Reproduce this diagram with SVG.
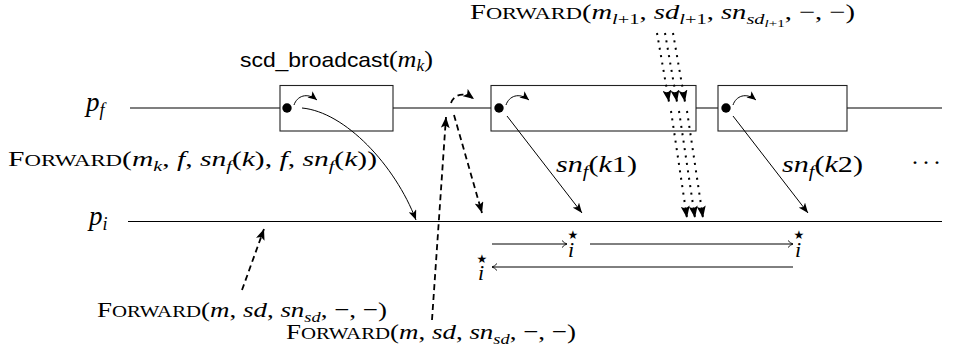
<svg xmlns="http://www.w3.org/2000/svg" width="955" height="364" viewBox="0 0 955 364">
<style>
.t{font-family:"Liberation Serif","Times New Roman",serif;font-size:22px;fill:#000}
.sc{font-size:17px}
.i{font-style:italic}
.s{font-size:15px}
.ss{font-size:11px}
.sans{font-family:"Liberation Sans",Arial,sans-serif;font-size:21px}
.star{font-family:"DejaVu Sans",sans-serif;font-size:12px;font-style:normal}
.line{stroke:#000;stroke-width:1.1;fill:none}
.box{fill:#fff;stroke:#222;stroke-width:1.1}
.arr{stroke:#000;stroke-width:1;fill:none}
.dash{stroke:#000;stroke-width:1.8;fill:none;stroke-dasharray:6 4}
.dotl{stroke:#000;stroke-width:2;fill:none;stroke-dasharray:2 5.5}
</style>
<defs>
<marker id="ah" viewBox="0 0 10 8" markerWidth="10" markerHeight="8" refX="10" refY="4" orient="auto" markerUnits="userSpaceOnUse">
<path d="M0,0 L10,4 L0,8 L2.5,4 z" fill="#000"/>
</marker>
<marker id="ahs" viewBox="0 0 9 8" markerWidth="9" markerHeight="8" refX="9" refY="4" orient="auto" markerUnits="userSpaceOnUse">
<path d="M0,0 L9,4 L0,8 L2.2,4 z" fill="#000"/>
</marker>
<marker id="ahd" viewBox="0 0 11 9" markerWidth="11" markerHeight="9" refX="11" refY="4.5" orient="auto" markerUnits="userSpaceOnUse">
<path d="M0,0 L11,4.5 L0,9 L2.5,4.5 z" fill="#000"/>
</marker>
<marker id="ahp" viewBox="0 0 12 9" markerWidth="12" markerHeight="9" refX="12" refY="4.5" orient="auto" markerUnits="userSpaceOnUse">
<path d="M0,0 L12,4.5 L0,9 L2.5,4.5 z" fill="#000"/>
</marker>
<marker id="to" viewBox="-1 -5 8 10" markerWidth="8" markerHeight="10" refX="5" refY="0" orient="auto" markerUnits="userSpaceOnUse">
<path d="M0,-3.5 Q2.5,-0.6 5,0 Q2.5,0.6 0,3.5" fill="none" stroke="#000" stroke-width="0.9"/>
</marker>
</defs>
<rect width="955" height="364" fill="#fff"/>

<g id="process-pf">
<line class="line" x1="130" y1="108" x2="942" y2="108"/>
<text class="t i" x="86" y="111" style="font-size:27px">p<tspan dy="5" style="font-size:18px">f</tspan></text>
</g>
<g id="process-pi">
<line class="line" x1="128" y1="221.5" x2="942" y2="221.5"/>
<text class="t i" x="89" y="225" style="font-size:27px">p<tspan dy="5" style="font-size:18px">i</tspan></text>
</g>

<g id="event-k">
<rect class="box" x="280" y="85.5" width="113" height="45.5"/>
<circle cx="287" cy="108" r="4.7" fill="#000"/>
<path class="arr" d="M294,105 C297,96 307,92 317,100" marker-end="url(#ahs)"/>
</g>
<g id="event-k1">
<rect class="box" x="491" y="85.5" width="205" height="45.5"/>
<circle cx="499" cy="108" r="4.7" fill="#000"/>
<path class="arr" d="M506,105 C509,96 519,92 529,100" marker-end="url(#ahs)"/>
</g>
<g id="event-k2">
<rect class="box" x="718" y="85.5" width="129" height="45.5"/>
<circle cx="726" cy="108" r="4.7" fill="#000"/>
<path class="arr" d="M733,105 C736,96 746,92 756,100" marker-end="url(#ahs)"/>
</g>

<g id="label-broadcast">
<text class="t" x="336.5" y="67" text-anchor="middle" textLength="193" lengthAdjust="spacingAndGlyphs" style="font-size:24px"><tspan class="sans">scd_broadcast</tspan>(<tspan class="i">m</tspan><tspan class="i" dy="4" style="font-size:16px">k</tspan><tspan dy="-4">)</tspan></text>
</g>

<g id="label-top">
<text class="t" x="470" y="19" textLength="385" lengthAdjust="spacingAndGlyphs" style="font-size:21px">F<tspan style="font-size:16.5px">ORWARD</tspan>(<tspan class="i">m</tspan><tspan class="i s" dy="5">l</tspan><tspan class="s">+1</tspan><tspan dy="-5">, </tspan><tspan class="i">sd</tspan><tspan class="i s" dy="5">l</tspan><tspan class="s">+1</tspan><tspan dy="-5">, </tspan><tspan class="i">sn</tspan><tspan class="i s" dy="5">sd</tspan><tspan class="i ss" dy="3">l</tspan><tspan class="ss">+1</tspan><tspan dy="-8">, −, −)</tspan></text>
</g>

<g id="label-left">
<text class="t" x="8" y="166" textLength="369" lengthAdjust="spacingAndGlyphs">F<tspan class="sc">ORWARD</tspan>(<tspan class="i">m</tspan><tspan class="i s" dy="5">k</tspan><tspan dy="-5">, </tspan><tspan class="i">f</tspan>, <tspan class="i">sn</tspan><tspan class="i s" dy="5">f</tspan><tspan dy="-5">(</tspan><tspan class="i">k</tspan>), <tspan class="i">f</tspan>, <tspan class="i">sn</tspan><tspan class="i s" dy="5">f</tspan><tspan dy="-5">(</tspan><tspan class="i">k</tspan>))</text>
</g>

<g id="label-bottom1">
<text class="t" x="97" y="317" textLength="290" lengthAdjust="spacingAndGlyphs">F<tspan class="sc">ORWARD</tspan>(<tspan class="i">m</tspan>, <tspan class="i">sd</tspan>, <tspan class="i">sn</tspan><tspan class="i s" dy="5">sd</tspan><tspan dy="-5">, −, −)</tspan></text>
</g>
<g id="label-bottom2">
<text class="t" x="286" y="339" textLength="290" lengthAdjust="spacingAndGlyphs">F<tspan class="sc">ORWARD</tspan>(<tspan class="i">m</tspan>, <tspan class="i">sd</tspan>, <tspan class="i">sn</tspan><tspan class="i s" dy="5">sd</tspan><tspan dy="-5">, −, −)</tspan></text>
</g>

<g id="label-k1">
<text class="t" x="556" y="172" textLength="81" lengthAdjust="spacingAndGlyphs" style="font-size:24px"><tspan class="i">sn</tspan><tspan class="i" dy="5" style="font-size:16px">f</tspan><tspan dy="-5">(</tspan><tspan class="i">k</tspan>1)</text>
</g>
<g id="label-k2">
<text class="t" x="782" y="172" textLength="81" lengthAdjust="spacingAndGlyphs" style="font-size:24px"><tspan class="i">sn</tspan><tspan class="i" dy="5" style="font-size:16px">f</tspan><tspan dy="-5">(</tspan><tspan class="i">k</tspan>2)</text>
</g>
<g id="label-dots">
<text class="t" x="926" y="170" text-anchor="middle" textLength="30" lengthAdjust="spacing" style="font-size:24px">· · ·</text>
</g>

<g id="mark-1">
<text class="t i" text-anchor="middle"><tspan class="star" x="573" y="239">★</tspan><tspan x="571" y="257">i</tspan></text>
</g>
<g id="mark-2">
<text class="t i" text-anchor="middle"><tspan class="star" x="799" y="239">★</tspan><tspan x="798" y="257">i</tspan></text>
</g>
<g id="mark-0">
<text class="t i" text-anchor="middle"><tspan class="star" x="482" y="263">★</tspan><tspan x="481" y="280">i</tspan></text>
</g>

<g id="connectors">
<path class="arr" d="M302,108 C345,112 395,165 416,220" marker-end="url(#ah)"/>
<line class="arr" x1="507" y1="116" x2="582" y2="213" marker-end="url(#ah)"/>
<line class="arr" x1="733" y1="116" x2="808" y2="213" marker-end="url(#ah)"/>

<line class="dash" x1="242" y1="290" x2="264" y2="229" marker-end="url(#ahd)"/>
<line class="dash" x1="432" y1="320" x2="446" y2="117" marker-end="url(#ahd)"/>
<path class="dash" d="M451,103 C454,95 463,91 474,99" marker-end="url(#ahd)"/>
<line class="dash" x1="454" y1="115" x2="482" y2="213" marker-end="url(#ahd)"/>

<line class="dotl" x1="657" y1="33" x2="669" y2="102" marker-end="url(#ahp)"/>
<line class="dotl" x1="665" y1="33" x2="677" y2="102" marker-end="url(#ahp)"/>
<line class="dotl" x1="673" y1="33" x2="685" y2="102" marker-end="url(#ahp)"/>
<line class="dotl" x1="671" y1="111" x2="687" y2="218" marker-end="url(#ahp)"/>
<line class="dotl" x1="679" y1="111" x2="695" y2="218" marker-end="url(#ahp)"/>
<line class="dotl" x1="687" y1="111" x2="703" y2="218" marker-end="url(#ahp)"/>

<line class="arr" x1="492" y1="244" x2="567" y2="244" marker-end="url(#to)"/>
<line class="arr" x1="590" y1="244" x2="793" y2="244" marker-end="url(#to)"/>
<line class="arr" x1="793" y1="267" x2="492" y2="267" marker-end="url(#to)"/>
</g>
</svg>
